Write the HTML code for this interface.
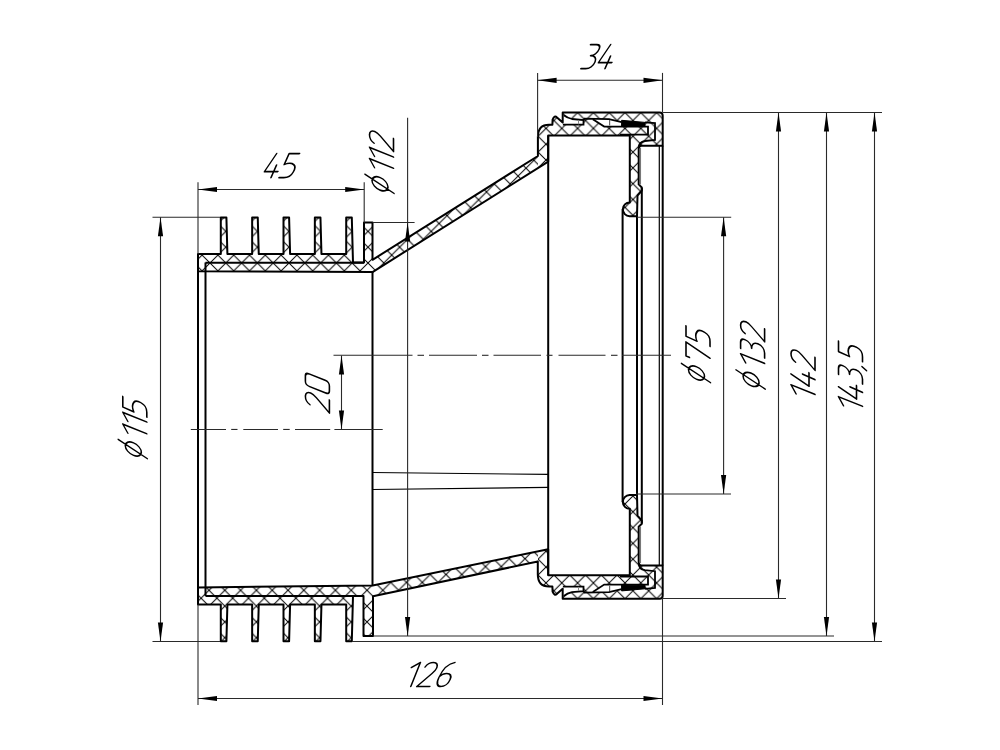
<!DOCTYPE html><html><head><meta charset="utf-8"><style>html,body{margin:0;padding:0;background:#fff;}svg{display:block;}</style></head><body><svg width="1000" height="750" viewBox="0 0 1000 750"><rect width="1000" height="750" fill="#fff"/><defs><pattern id="hA" patternUnits="userSpaceOnUse" width="15.8" height="15.8" x="12.5" y="2.3"><path d="M-1,-1 L16.8,16.8 M16.8,-1 L-1,16.8" stroke="#000" stroke-width="1"/></pattern><pattern id="hB" patternUnits="userSpaceOnUse" width="15.8" height="15.8" x="8.8" y="1.9999999999999998"><path d="M-1,-1 L16.8,16.8 M16.8,-1 L-1,16.8" stroke="#000" stroke-width="1"/></pattern><pattern id="hC" patternUnits="userSpaceOnUse" width="15.8" height="15.8" x="11.5" y="-2.2"><path d="M-1,-1 L16.8,16.8 M16.8,-1 L-1,16.8" stroke="#000" stroke-width="1"/></pattern><pattern id="hD" patternUnits="userSpaceOnUse" width="15.8" height="15.8" x="8.8" y="-1.7000000000000002"><path d="M-1,-1 L16.8,16.8 M16.8,-1 L-1,16.8" stroke="#000" stroke-width="1"/></pattern><clipPath id="cL"><rect x="0" y="0" width="538" height="750"/></clipPath><clipPath id="cR"><rect x="538" y="0" width="462" height="750"/></clipPath></defs><path d="M198.00,254.00 L220.80,254.00 L220.80,217.50 L226.40,217.50 L227.40,254.00 L252.15,254.00 L252.15,217.50 L257.75,217.50 L258.75,254.00 L283.50,254.00 L283.50,217.50 L289.10,217.50 L290.10,254.00 L314.85,254.00 L314.85,217.50 L320.45,217.50 L321.45,254.00 L346.20,254.00 L346.20,217.50 L351.80,217.50 L353.00,262.50 L364.00,262.50 L364.00,222.50 L372.50,222.50 L372.50,259.80 L537.90,156.00 L537.9,137 Q537.9,124.7 549,124.7 L552.4,124.7 L552.6,119.5 Q554.5,114.8 557,117.5 L562.7,122.5 L562.7,112.5 L659.5,112.5 Q662.7,112.5 662.7,115.8 L662.7,145.7 L641.3,145.7 Q638.7,146 638.7,149 L638.7,184.4 L641.8,187.5 L641.8,190.5 L637.5,195.5 L637,216.2 L629.6,216.2 A6.9,6.9 0 0,1 629.8,202.4 L629.8,135.5 L548.2,135.5 L548.2,161.6 L372.5,272.1 L198,271.2 Z" fill="url(#hA)" clip-path="url(#cL)"/><path d="M198.00,254.00 L220.80,254.00 L220.80,217.50 L226.40,217.50 L227.40,254.00 L252.15,254.00 L252.15,217.50 L257.75,217.50 L258.75,254.00 L283.50,254.00 L283.50,217.50 L289.10,217.50 L290.10,254.00 L314.85,254.00 L314.85,217.50 L320.45,217.50 L321.45,254.00 L346.20,254.00 L346.20,217.50 L351.80,217.50 L353.00,262.50 L364.00,262.50 L364.00,222.50 L372.50,222.50 L372.50,259.80 L537.90,156.00 L537.9,137 Q537.9,124.7 549,124.7 L552.4,124.7 L552.6,119.5 Q554.5,114.8 557,117.5 L562.7,122.5 L562.7,112.5 L659.5,112.5 Q662.7,112.5 662.7,115.8 L662.7,145.7 L641.3,145.7 Q638.7,146 638.7,149 L638.7,184.4 L641.8,187.5 L641.8,190.5 L637.5,195.5 L637,216.2 L629.6,216.2 A6.9,6.9 0 0,1 629.8,202.4 L629.8,135.5 L548.2,135.5 L548.2,161.6 L372.5,272.1 L198,271.2 Z" fill="url(#hB)" clip-path="url(#cR)"/><path d="M198.00,604.50 L220.80,604.50 L220.80,641.20 L226.40,641.20 L227.40,604.50 L252.15,604.50 L252.15,641.20 L257.75,641.20 L258.75,604.50 L283.50,604.50 L283.50,641.20 L289.10,641.20 L290.10,604.50 L314.85,604.50 L314.85,641.20 L320.45,641.20 L321.45,604.50 L346.20,604.50 L346.20,641.20 L351.80,641.20 L353.00,596.00 L363.50,596.00 L363.50,636.00 L373.00,636.00 L373.00,596.20 L537.80,561.50 L537.8,574.2 Q537.8,586.5 549,586.5 L552.4,586.5 L552.6,591.7 Q554.5,596.4000000000001 557,593.7 L562.7,588.7 L562.7,598.7 L659.5,598.7 Q662.7,598.7 662.7,595.4000000000001 L662.7,565.5 L641.3,565.5 Q638.7,565.2 638.7,562.2 L638.7,526.8000000000001 L641.8,523.7 L641.8,520.7 L637.5,515.7 L637,495.00000000000006 L629.6,495.00000000000006 A6.9,6.9 0 0,0 629.8,508.80000000000007 L629.8,575.3 L548.2,575.3 L548.2,549.3 L372.6,585.4 L198,587.4 Z" fill="url(#hC)" clip-path="url(#cL)"/><path d="M198.00,604.50 L220.80,604.50 L220.80,641.20 L226.40,641.20 L227.40,604.50 L252.15,604.50 L252.15,641.20 L257.75,641.20 L258.75,604.50 L283.50,604.50 L283.50,641.20 L289.10,641.20 L290.10,604.50 L314.85,604.50 L314.85,641.20 L320.45,641.20 L321.45,604.50 L346.20,604.50 L346.20,641.20 L351.80,641.20 L353.00,596.00 L363.50,596.00 L363.50,636.00 L373.00,636.00 L373.00,596.20 L537.80,561.50 L537.8,574.2 Q537.8,586.5 549,586.5 L552.4,586.5 L552.6,591.7 Q554.5,596.4000000000001 557,593.7 L562.7,588.7 L562.7,598.7 L659.5,598.7 Q662.7,598.7 662.7,595.4000000000001 L662.7,565.5 L641.3,565.5 Q638.7,565.2 638.7,562.2 L638.7,526.8000000000001 L641.8,523.7 L641.8,520.7 L637.5,515.7 L637,495.00000000000006 L629.6,495.00000000000006 A6.9,6.9 0 0,0 629.8,508.80000000000007 L629.8,575.3 L548.2,575.3 L548.2,549.3 L372.6,585.4 L198,587.4 Z" fill="url(#hD)" clip-path="url(#cR)"/><path d="M563.8,115.2 Q567.2,117.8 572,119 L583.5,120 L583.5,124.6 L562.9,124.6 L562.9,116 Z" fill="#fff"/><path d="M592.8,119.3 L609,119.1 L621.6,122.1 L621.6,126.6 L604.2,126.6 Z" fill="#fff"/><path d="M563.8,115.2 Q567.2,117.8 572,119 L583.5,120 L583.5,124.6 L562.9,124.6" fill="none" stroke="#000" stroke-width="1.8"/><path d="M583.5,120 L584.4,118.6 L609,119.1 L621.6,122.1" fill="none" stroke="#000" stroke-width="1.8"/><path d="M592.8,119.3 L604.2,126.6 L648,126.6 L648,134.7 L620,134.7" fill="none" stroke="#000" stroke-width="1.8"/><path d="M645,122.4 L655,123.2 L655,140 L645,141 Q638.7,142 638.7,148" fill="none" stroke="#000" stroke-width="1.8"/><path d="M621.6,120.3 L645,122.4 L645,126 L621.6,126.3 Z" fill="#000" stroke="#000" stroke-width="1"/><path d="M609.6,120 L609.6,125.5" stroke="#666" stroke-width="1.2"/><path d="M578.5,120.3 L578.5,124.3" stroke="#888" stroke-width="1"/><path d="M563.8,596.0 Q567.2,593.4000000000001 572,592.2 L583.5,591.2 L583.5,586.6 L562.9,586.6 L562.9,595.2 Z" fill="#fff"/><path d="M592.8,591.9000000000001 L609,592.1 L621.6,589.1 L621.6,584.6 L604.2,584.6 Z" fill="#fff"/><path d="M563.8,596.0 Q567.2,593.4000000000001 572,592.2 L583.5,591.2 L583.5,586.6 L562.9,586.6" fill="none" stroke="#000" stroke-width="1.8"/><path d="M583.5,591.2 L584.4,592.6 L609,592.1 L621.6,589.1" fill="none" stroke="#000" stroke-width="1.8"/><path d="M592.8,591.9000000000001 L604.2,584.6 L648,584.6 L648,576.5 L620,576.5" fill="none" stroke="#000" stroke-width="1.8"/><path d="M645,588.8000000000001 L655,588.0 L655,571.2 L645,570.2 Q638.7,569.2 638.7,563.2" fill="none" stroke="#000" stroke-width="1.8"/><path d="M621.6,590.9000000000001 L645,588.8000000000001 L645,585.2 L621.6,584.9000000000001 Z" fill="#000" stroke="#000" stroke-width="1"/><path d="M609.6,591.2 L609.6,585.7" stroke="#666" stroke-width="1.2"/><path d="M578.5,590.9000000000001 L578.5,586.9000000000001" stroke="#888" stroke-width="1"/><path d="M198.00,254.00 L220.80,254.00 L220.80,217.50 L226.40,217.50 L227.40,254.00 L252.15,254.00 L252.15,217.50 L257.75,217.50 L258.75,254.00 L283.50,254.00 L283.50,217.50 L289.10,217.50 L290.10,254.00 L314.85,254.00 L314.85,217.50 L320.45,217.50 L321.45,254.00 L346.20,254.00 L346.20,217.50 L351.80,217.50 L353.00,262.50 L364.00,262.50 L364.00,222.50 L372.50,222.50 L372.50,259.80 L537.90,156.00 L537.9,137 Q537.9,124.7 549,124.7 L552.4,124.7 L552.6,119.5 Q554.5,114.8 557,117.5 L562.7,122.5 L562.7,112.5 L659.5,112.5 Q662.7,112.5 662.7,115.8 L662.7,145.7 L641.3,145.7 Q638.7,146 638.7,149 L638.7,184.4 L641.8,187.5 L641.8,190.5 L637.5,195.5 L637,216.2 L629.6,216.2 A6.9,6.9 0 0,1 629.8,202.4 L629.8,135.5 L548.2,135.5 L548.2,161.6 L372.5,272.1 L198,271.2 Z" fill="none" stroke="#000" stroke-width="2.0" stroke-linejoin="round"/><path d="M198.00,604.50 L220.80,604.50 L220.80,641.20 L226.40,641.20 L227.40,604.50 L252.15,604.50 L252.15,641.20 L257.75,641.20 L258.75,604.50 L283.50,604.50 L283.50,641.20 L289.10,641.20 L290.10,604.50 L314.85,604.50 L314.85,641.20 L320.45,641.20 L321.45,604.50 L346.20,604.50 L346.20,641.20 L351.80,641.20 L353.00,596.00 L363.50,596.00 L363.50,636.00 L373.00,636.00 L373.00,596.20 L537.80,561.50 L537.8,574.2 Q537.8,586.5 549,586.5 L552.4,586.5 L552.6,591.7 Q554.5,596.4000000000001 557,593.7 L562.7,588.7 L562.7,598.7 L659.5,598.7 Q662.7,598.7 662.7,595.4000000000001 L662.7,565.5 L641.3,565.5 Q638.7,565.2 638.7,562.2 L638.7,526.8000000000001 L641.8,523.7 L641.8,520.7 L637.5,515.7 L637,495.00000000000006 L629.6,495.00000000000006 A6.9,6.9 0 0,0 629.8,508.80000000000007 L629.8,575.3 L548.2,575.3 L548.2,549.3 L372.6,585.4 L198,587.4 Z" fill="none" stroke="#000" stroke-width="2.0" stroke-linejoin="round"/><line x1="198" y1="254" x2="198" y2="604.5" stroke="#000" stroke-width="2.0"/><line x1="205.5" y1="262.5" x2="205.5" y2="596" stroke="#000" stroke-width="2.0"/><line x1="205.5" y1="262.7" x2="364" y2="262.7" stroke="#000" stroke-width="2.0"/><line x1="205.5" y1="596" x2="363.5" y2="596" stroke="#000" stroke-width="2.0"/><line x1="372.5" y1="272.1" x2="372.5" y2="585.4" stroke="#000" stroke-width="2.0"/><line x1="548.2" y1="135.5" x2="548.2" y2="575.3" stroke="#000" stroke-width="2.0"/><line x1="622.6" y1="209.3" x2="622.6" y2="501.90000000000003" stroke="#000" stroke-width="2.0"/><line x1="637" y1="216.2" x2="637" y2="495.00000000000006" stroke="#000" stroke-width="2.0"/><line x1="641.8" y1="188" x2="641.8" y2="523.2" stroke="#000" stroke-width="2.0"/><line x1="640.4" y1="148" x2="640.4" y2="184.5" stroke="#777" stroke-width="1.3"/><line x1="640.4" y1="563.2" x2="640.4" y2="526.7" stroke="#777" stroke-width="1.3"/><line x1="659.3" y1="145.7" x2="659.3" y2="565.5" stroke="#000" stroke-width="1.2"/><line x1="662.7" y1="145.7" x2="662.7" y2="565.5" stroke="#000" stroke-width="2.0"/><line x1="372.5" y1="472.5" x2="548.2" y2="474.4" stroke="#000" stroke-width="1.1"/><line x1="372.5" y1="489.5" x2="548.2" y2="487.4" stroke="#000" stroke-width="1.1"/><line x1="198" y1="182.3" x2="198" y2="254" stroke="#2a2a2a" stroke-width="1.1"/><line x1="364.2" y1="182.3" x2="364.2" y2="222.5" stroke="#2a2a2a" stroke-width="1.1"/><line x1="198" y1="189.5" x2="364.2" y2="189.5" stroke="#2a2a2a" stroke-width="1.1"/><path d="M198.00,189.50 L217.00,186.90 L217.00,192.10 Z" fill="#000"/><path d="M364.20,189.50 L345.20,192.10 L345.20,186.90 Z" fill="#000"/><line x1="537.6" y1="72.9" x2="537.6" y2="137" stroke="#2a2a2a" stroke-width="1.1"/><line x1="662.5" y1="72.9" x2="662.5" y2="112.5" stroke="#2a2a2a" stroke-width="1.1"/><line x1="537.6" y1="80.3" x2="662.5" y2="80.3" stroke="#2a2a2a" stroke-width="1.1"/><path d="M537.60,80.30 L556.60,77.70 L556.60,82.90 Z" fill="#000"/><path d="M662.50,80.30 L643.50,82.90 L643.50,77.70 Z" fill="#000"/><line x1="198" y1="604.5" x2="198" y2="705" stroke="#2a2a2a" stroke-width="1.1"/><line x1="662.5" y1="598" x2="662.5" y2="705" stroke="#2a2a2a" stroke-width="1.1"/><line x1="198" y1="698.5" x2="662.5" y2="698.5" stroke="#2a2a2a" stroke-width="1.1"/><path d="M198.00,698.50 L217.00,695.90 L217.00,701.10 Z" fill="#000"/><path d="M662.50,698.50 L643.50,701.10 L643.50,695.90 Z" fill="#000"/><line x1="152.5" y1="217.2" x2="220" y2="217.2" stroke="#2a2a2a" stroke-width="1.1"/><line x1="152.5" y1="641.5" x2="220" y2="641.5" stroke="#2a2a2a" stroke-width="1.1"/><line x1="160.5" y1="217.2" x2="160.5" y2="641.5" stroke="#2a2a2a" stroke-width="1.1"/><path d="M160.50,217.20 L163.10,236.20 L157.90,236.20 Z" fill="#000"/><path d="M160.50,641.50 L157.90,622.50 L163.10,622.50 Z" fill="#000"/><line x1="372.6" y1="222.5" x2="414.6" y2="222.5" stroke="#2a2a2a" stroke-width="1.1"/><line x1="407.6" y1="117.7" x2="407.6" y2="636" stroke="#2a2a2a" stroke-width="1.1"/><path d="M407.60,222.50 L410.20,241.50 L405.00,241.50 Z" fill="#000"/><path d="M407.60,636.00 L405.00,617.00 L410.20,617.00 Z" fill="#000"/><line x1="341.5" y1="355.5" x2="341.5" y2="429.5" stroke="#2a2a2a" stroke-width="1.1"/><path d="M341.50,355.50 L344.10,374.50 L338.90,374.50 Z" fill="#000"/><path d="M341.50,429.50 L338.90,410.50 L344.10,410.50 Z" fill="#000"/><line x1="333.5" y1="355.3" x2="412.5" y2="355.3" stroke="#2a2a2a" stroke-width="1.1"/><line x1="417.5" y1="355.3" x2="424" y2="355.3" stroke="#2a2a2a" stroke-width="1.1"/><line x1="429" y1="355.3" x2="477" y2="355.3" stroke="#2a2a2a" stroke-width="1.1"/><line x1="482" y1="355.3" x2="488.5" y2="355.3" stroke="#2a2a2a" stroke-width="1.1"/><line x1="493.5" y1="355.3" x2="541" y2="355.3" stroke="#2a2a2a" stroke-width="1.1"/><line x1="546.5" y1="355.3" x2="552.5" y2="355.3" stroke="#2a2a2a" stroke-width="1.1"/><line x1="558.5" y1="355.3" x2="605.5" y2="355.3" stroke="#2a2a2a" stroke-width="1.1"/><line x1="611" y1="355.3" x2="617.5" y2="355.3" stroke="#2a2a2a" stroke-width="1.1"/><line x1="622" y1="355.3" x2="671" y2="355.3" stroke="#2a2a2a" stroke-width="1.1"/><line x1="190.8" y1="429.45" x2="226" y2="429.45" stroke="#2a2a2a" stroke-width="1.1"/><line x1="231.2" y1="429.45" x2="237.5" y2="429.45" stroke="#2a2a2a" stroke-width="1.1"/><line x1="243.3" y1="429.45" x2="278" y2="429.45" stroke="#2a2a2a" stroke-width="1.1"/><line x1="283.2" y1="429.45" x2="289.7" y2="429.45" stroke="#2a2a2a" stroke-width="1.1"/><line x1="295" y1="429.45" x2="330.2" y2="429.45" stroke="#2a2a2a" stroke-width="1.1"/><line x1="334.4" y1="429.45" x2="382.7" y2="429.45" stroke="#2a2a2a" stroke-width="1.1"/><line x1="637" y1="217.3" x2="731.2" y2="217.3" stroke="#2a2a2a" stroke-width="1.1"/><line x1="636" y1="494" x2="731" y2="494" stroke="#2a2a2a" stroke-width="1.1"/><line x1="723.6" y1="217.3" x2="723.6" y2="494" stroke="#2a2a2a" stroke-width="1.1"/><path d="M723.60,217.30 L726.20,236.30 L721.00,236.30 Z" fill="#000"/><path d="M723.60,494.00 L721.00,475.00 L726.20,475.00 Z" fill="#000"/><line x1="662.5" y1="112.45" x2="882" y2="112.45" stroke="#2a2a2a" stroke-width="1.1"/><line x1="662.5" y1="598.5" x2="786" y2="598.5" stroke="#2a2a2a" stroke-width="1.1"/><line x1="778.5" y1="112.45" x2="778.5" y2="598.5" stroke="#2a2a2a" stroke-width="1.1"/><path d="M778.50,112.45 L781.10,131.45 L775.90,131.45 Z" fill="#000"/><path d="M778.50,598.50 L775.90,579.50 L781.10,579.50 Z" fill="#000"/><line x1="373" y1="636" x2="834" y2="636" stroke="#2a2a2a" stroke-width="1.1"/><line x1="826.5" y1="112.45" x2="826.5" y2="636" stroke="#2a2a2a" stroke-width="1.1"/><path d="M826.50,112.45 L829.10,131.45 L823.90,131.45 Z" fill="#000"/><path d="M826.50,636.00 L823.90,617.00 L829.10,617.00 Z" fill="#000"/><line x1="352" y1="641.5" x2="882" y2="641.5" stroke="#2a2a2a" stroke-width="1.1"/><line x1="874.5" y1="112.45" x2="874.5" y2="641.5" stroke="#2a2a2a" stroke-width="1.1"/><path d="M874.50,112.45 L877.10,131.45 L871.90,131.45 Z" fill="#000"/><path d="M874.50,641.50 L871.90,622.50 L877.10,622.50 Z" fill="#000"/><g transform="translate(262,177.6)"><g transform="matrix(1,0,-0.4,1,0,0)" fill="none" stroke="#000" stroke-width="1.6" stroke-linecap="round" stroke-linejoin="round" vector-effect="non-scaling-stroke"><path transform="translate(0.00,0)" d="M5,-24 L0,-6 L13.5,-6 M9.5,-12.5 L9,0"/><path transform="translate(17.00,0)" d="M11,-24 L0.5,-24 L0,-13 C3,-14.5 7,-14.5 9.5,-13 C12,-11.5 12.5,-8 12,-5.5 C11.5,-2 8.5,0 5,0 L0,0"/></g></g><g transform="translate(579.7,68.6)"><g transform="matrix(1,0,-0.4,1,0,0)" fill="none" stroke="#000" stroke-width="1.6" stroke-linecap="round" stroke-linejoin="round" vector-effect="non-scaling-stroke"><path transform="translate(1.20,0)" d="M0,-24 L6,-24 C8.5,-24 10.5,-22.5 10.5,-19.5 C10.5,-15.5 7.5,-13 4.5,-13 C8.5,-13 11.5,-10.5 11.5,-6.5 C11.5,-2.5 8.5,0 5,0 L0,0"/><path transform="translate(16.30,0)" d="M5,-24 L0,-6 L13.5,-6 M9.5,-12.5 L9,0"/></g></g><g transform="translate(403.8,686.5)"><g transform="matrix(1,0,-0.4,1,0,0)" fill="none" stroke="#000" stroke-width="1.6" stroke-linecap="round" stroke-linejoin="round" vector-effect="non-scaling-stroke"><path transform="translate(0.00,0)" d="M0,-19 L7,-24 L7,0"/><path transform="translate(13.00,0)" d="M0.5,-19.5 C1.5,-22.5 4,-24 7,-24 C10.5,-24 12.5,-21.5 12.5,-18.5 C12.5,-16.5 11.5,-15 10,-13 L0,0 L13,0"/><path transform="translate(31.00,0)" d="M10.5,-24 C5,-23 1,-18 0.5,-9 C0,-3 2.5,0 6,0 C10,0 12.5,-3 12.5,-7 C12.5,-11 10,-13 6.5,-13 C4,-13 2,-12 0.7,-10"/></g></g><g transform="translate(146.8,461) rotate(-90)"><g transform="matrix(1,0,-0.4,1,0,0)" fill="none" stroke="#000" stroke-width="1.6" stroke-linecap="round" stroke-linejoin="round" vector-effect="non-scaling-stroke"><path transform="translate(-0.40,0)" d="M0.7,-13.5 A6.3,8 0 1,0 13.3,-13.5 A6.3,8 0 1,0 0.7,-13.5 Z M10.5,-28.5 L3,0.5"/><path transform="translate(20.30,0)" d="M0,-19 L7,-24 L7,0"/><path transform="translate(32.00,0)" d="M0,-19 L7,-24 L7,0"/><path transform="translate(43.90,0)" d="M11,-24 L0.5,-24 L0,-13 C3,-14.5 7,-14.5 9.5,-13 C12,-11.5 12.5,-8 12,-5.5 C11.5,-2 8.5,0 5,0 L0,0"/></g></g><g transform="translate(393.5,195) rotate(-90)"><g transform="matrix(1,0,-0.4,1,0,0)" fill="none" stroke="#000" stroke-width="1.6" stroke-linecap="round" stroke-linejoin="round" vector-effect="non-scaling-stroke"><path transform="translate(-1.20,0)" d="M0.7,-13.5 A6.3,8 0 1,0 13.3,-13.5 A6.3,8 0 1,0 0.7,-13.5 Z M10.5,-28.5 L3,0.5"/><path transform="translate(19.80,0)" d="M0,-19 L7,-24 L7,0"/><path transform="translate(31.00,0)" d="M0,-19 L7,-24 L7,0"/><path transform="translate(43.50,0)" d="M0.5,-19.5 C1.5,-22.5 4,-24 7,-24 C10.5,-24 12.5,-21.5 12.5,-18.5 C12.5,-16.5 11.5,-15 10,-13 L0,0 L13,0"/></g></g><g transform="translate(329.4,413) rotate(-90)"><g transform="matrix(1,0,-0.4,1,0,0)" fill="none" stroke="#000" stroke-width="1.6" stroke-linecap="round" stroke-linejoin="round" vector-effect="non-scaling-stroke"><path transform="translate(0.00,0)" d="M0.5,-19.5 C1.5,-22.5 4,-24 7,-24 C10.5,-24 12.5,-21.5 12.5,-18.5 C12.5,-16.5 11.5,-15 10,-13 L0,0 L13,0"/><path transform="translate(18.50,0)" d="M3.5,-24 L9,-24 C11.5,-24 12.5,-22.5 12.5,-20 L12.5,-4 C12.5,-1.5 11,0 8.5,0 L3.5,0 C1,0 0,-1.5 0,-4 L0,-20 C0,-22.5 1,-24 3.5,-24 Z"/></g></g><g transform="translate(710,385.1) rotate(-90)"><g transform="matrix(1,0,-0.4,1,0,0)" fill="none" stroke="#000" stroke-width="1.6" stroke-linecap="round" stroke-linejoin="round" vector-effect="non-scaling-stroke"><path transform="translate(-0.30,0)" d="M0.7,-13.5 A6.3,8 0 1,0 13.3,-13.5 A6.3,8 0 1,0 0.7,-13.5 Z M10.5,-28.5 L3,0.5"/><path transform="translate(19.50,0)" d="M0,-20.5 L0,-24 L14,-24 L7.4,0"/><path transform="translate(38.70,0)" d="M11,-24 L0.5,-24 L0,-13 C3,-14.5 7,-14.5 9.5,-13 C12,-11.5 12.5,-8 12,-5.5 C11.5,-2 8.5,0 5,0 L0,0"/></g></g><g transform="translate(764.6,391.5) rotate(-90)"><g transform="matrix(1,0,-0.4,1,0,0)" fill="none" stroke="#000" stroke-width="1.6" stroke-linecap="round" stroke-linejoin="round" vector-effect="non-scaling-stroke"><path transform="translate(-0.30,0)" d="M0.7,-13.5 A6.3,8 0 1,0 13.3,-13.5 A6.3,8 0 1,0 0.7,-13.5 Z M10.5,-28.5 L3,0.5"/><path transform="translate(21.10,0)" d="M0,-19 L7,-24 L7,0"/><path transform="translate(33.50,0)" d="M0,-24 L6,-24 C8.5,-24 10.5,-22.5 10.5,-19.5 C10.5,-15.5 7.5,-13 4.5,-13 C8.5,-13 11.5,-10.5 11.5,-6.5 C11.5,-2.5 8.5,0 5,0 L0,0"/><path transform="translate(49.70,0)" d="M0.5,-19.5 C1.5,-22.5 4,-24 7,-24 C10.5,-24 12.5,-21.5 12.5,-18.5 C12.5,-16.5 11.5,-15 10,-13 L0,0 L13,0"/></g></g><g transform="translate(815,399.5) rotate(-90)"><g transform="matrix(1,0,-0.4,1,0,0)" fill="none" stroke="#000" stroke-width="1.6" stroke-linecap="round" stroke-linejoin="round" vector-effect="non-scaling-stroke"><path transform="translate(-1.90,0)" d="M0,-19 L7,-24 L7,0"/><path transform="translate(10.90,0)" d="M5,-24 L0,-6 L13.5,-6 M9.5,-12.5 L9,0"/><path transform="translate(29.10,0)" d="M0.5,-19.5 C1.5,-22.5 4,-24 7,-24 C10.5,-24 12.5,-21.5 12.5,-18.5 C12.5,-16.5 11.5,-15 10,-13 L0,0 L13,0"/></g></g><g transform="translate(862.5,408) rotate(-90)"><g transform="matrix(1,0,-0.4,1,0,0)" fill="none" stroke="#000" stroke-width="1.6" stroke-linecap="round" stroke-linejoin="round" vector-effect="non-scaling-stroke"><path transform="translate(-5.30,0)" d="M0,-19 L7,-24 L7,0"/><path transform="translate(6.60,0)" d="M5,-24 L0,-6 L13.5,-6 M9.5,-12.5 L9,0"/><path transform="translate(24.00,0)" d="M0,-24 L6,-24 C8.5,-24 10.5,-22.5 10.5,-19.5 C10.5,-15.5 7.5,-13 4.5,-13 C8.5,-13 11.5,-10.5 11.5,-6.5 C11.5,-2.5 8.5,0 5,0 L0,0"/><path transform="translate(38.90,0)" d="M2.2,-0.5 L0,4"/><path transform="translate(46.30,0)" d="M11,-24 L0.5,-24 L0,-13 C3,-14.5 7,-14.5 9.5,-13 C12,-11.5 12.5,-8 12,-5.5 C11.5,-2 8.5,0 5,0 L0,0"/></g></g></svg></body></html>
